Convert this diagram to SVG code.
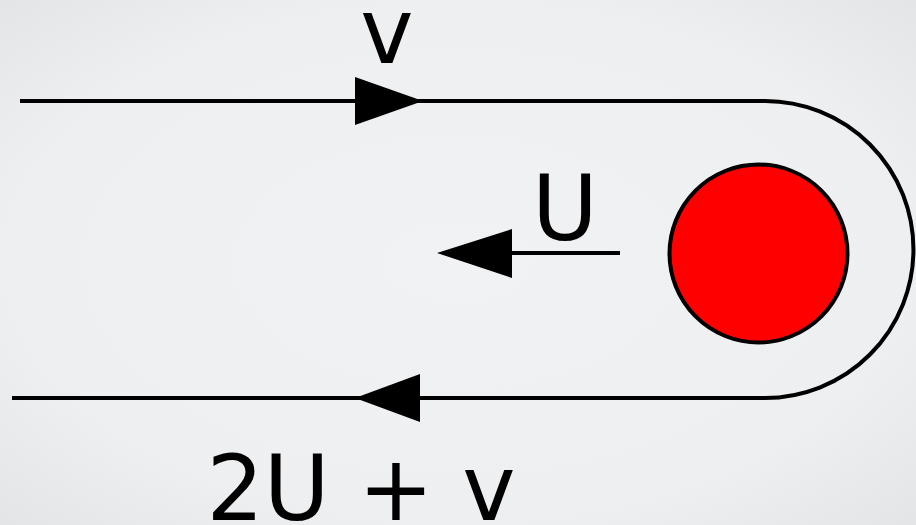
<svg xmlns="http://www.w3.org/2000/svg" width="916" height="525" viewBox="0 0 916 525">
  <defs>
    <radialGradient id="bg" cx="50%" cy="50%" r="70%">
      <stop offset="0" stop-color="#f1f2f4"/>
      <stop offset="0.7" stop-color="#eeeff1"/>
      <stop offset="1" stop-color="#e4e5e7"/>
    </radialGradient>
    <style>
      .line { fill: none; stroke: #000; stroke-width: 4; }
      .head { fill: #000; stroke: none; }
      .lbl { font-family: "DejaVu Sans", sans-serif; font-size: 90px; fill: #000; }
    </style>
  </defs>
  <rect x="0" y="0" width="916" height="525" fill="url(#bg)"/>

  <g id="connectors">
    <path id="stream" class="line" d="M20,101 H765 A148,148 0 0 1 765,398 H12"/>
    <polygon class="head" points="355,77 423,101 355,125"/>
    <polygon class="head" points="420,374 355,398 420,422"/>
    <path id="u-arrow" class="line" d="M620,253 H500"/>
    <polygon class="head" points="512,229 437,253 512,278"/>
  </g>

  <g id="obstacle">
    <circle cx="758.5" cy="253.5" r="89" fill="#ff0000" stroke="#000" stroke-width="4"/>
  </g>

  <g id="labels">
    <text id="label-v" class="lbl" x="387" y="63" text-anchor="middle">v</text>
    <text id="label-U" class="lbl" x="565" y="240" text-anchor="middle">U</text>
    <text id="label-2Uv" class="lbl" x="361" y="520" text-anchor="middle">2U + v</text>
  </g>
</svg>
